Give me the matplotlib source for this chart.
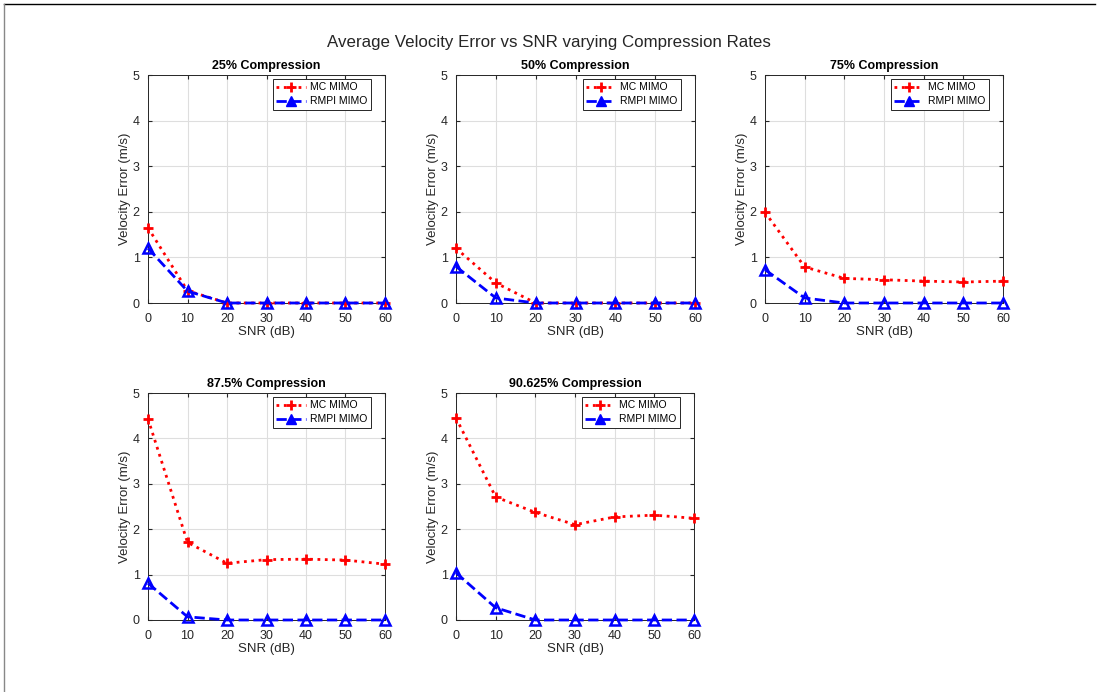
import matplotlib
matplotlib.use("Agg")
import matplotlib.pyplot as plt
from matplotlib.lines import Line2D

plt.rcParams["font.family"] = ["Liberation Sans", "DejaVu Sans"]

snr_db = [0, 10, 20, 30, 40, 50, 60]
titles = [
    "25% Compression",
    "50% Compression",
    "75% Compression",
    "87.5% Compression",
    "90.625% Compression",
]
mc_25 = [1.65, 0.27, 0, 0, 0, 0, 0]
mc_50 = [1.20, 0.44, 0, 0, 0, 0, 0]
mc_75 = [1.99, 0.79, 0.54, 0.51, 0.48, 0.46, 0.48]
mc_875 = [4.43, 1.71, 1.25, 1.33, 1.34, 1.32, 1.23]
mc_90625 = [4.45, 2.71, 2.37, 2.10, 2.27, 2.31, 2.24]
rmpi_25 = [1.20, 0.26, 0, 0, 0, 0, 0]
rmpi_50 = [0.80, 0.11, 0, 0, 0, 0, 0]
rmpi_75 = [0.73, 0.11, 0, 0, 0, 0, 0]
rmpi_875 = [0.81, 0.07, 0, 0, 0, 0, 0]
rmpi_90625 = [1.04, 0.27, 0, 0, 0, 0, 0]

mc_all = [mc_25, mc_50, mc_75, mc_875, mc_90625]
rmpi_all = [rmpi_25, rmpi_50, rmpi_75, rmpi_875, rmpi_90625]

W, H = 1097, 692
fig = plt.figure(figsize=(W / 100, H / 100), dpi=100)

# axes boxes in pixels: left, top, right, bottom
boxes = [
    (148, 75, 385, 303),
    (456, 75, 695, 303),
    (765, 75, 1003, 303),
    (148, 393, 385, 620),
    (456, 393, 694, 620),
]

dark = "#262626"
for box, title, mc, rmpi in zip(boxes, titles, mc_all, rmpi_all):
    l, t, r, b = box
    ax = fig.add_axes([l / W, 1 - b / H, (r - l) / W, (b - t) / H])
    ax.plot(snr_db, mc, color="red", linestyle=":", linewidth=2,
            marker="+", markersize=7, markeredgewidth=2, clip_on=False,
            zorder=3)
    ax.plot(snr_db, rmpi, color="blue", linestyle="--", linewidth=2,
            marker="^", markersize=7.5, markeredgewidth=1.8,
            markerfacecolor="none", clip_on=False, zorder=3)
    ax.set_xlim(0, 60)
    ax.set_ylim(0, 5)
    ax.set_xticks(snr_db)
    ax.set_yticks([0, 1, 2, 3, 4, 5])
    ax.grid(True, color="#dedede", linewidth=0.8)
    ax.set_axisbelow(True)
    ax.tick_params(direction="in", top=True, right=True, length=3,
                   labelsize=9, colors=dark, labelcolor=dark)
    ax.tick_params(axis="x", pad=7)
    ax.tick_params(axis="y", pad=6)
    for sp in ax.spines.values():
        sp.set_color(dark)
        sp.set_linewidth(0.7)
    ax.set_title(title, fontsize=9, fontweight="bold", pad=4)
    ax.set_xlabel("SNR (dB)", fontsize=9.5, color=dark, labelpad=1)
    ax.set_ylabel("Velocity Error (m/s)", fontsize=9.5, color=dark, labelpad=1)
    handles = [
        Line2D([], [], color="red", linestyle=":", linewidth=2, marker="+",
               markersize=7, markeredgewidth=2),
        Line2D([], [], color="blue", linestyle="--", linewidth=2, marker="^",
               markersize=7),
    ]
    leg = ax.legend(handles, ["MC MIMO", "RMPI MIMO"], loc="upper right",
                    fontsize=7.5, frameon=True, fancybox=False, framealpha=1,
                    borderaxespad=0.35, handlelength=2.8, borderpad=0.35,
                    labelspacing=0.4, handletextpad=0.4,
                    bbox_to_anchor=(0.955, 1.0))
    leg.get_frame().set_edgecolor(dark)
    leg.get_frame().set_linewidth(0.7)

fig.text(0.5, 1 - 42 / H, "Average Velocity Error vs SNR varying Compression Rates",
         ha="center", va="center", fontsize=12.2, color=dark)

# outer frame lines seen at top and left of the screenshot
fig.add_artist(Line2D([4 / W, 1095 / W], [1 - 4 / H, 1 - 4 / H],
                      transform=fig.transFigure, color="black", linewidth=1))
fig.add_artist(Line2D([4 / W, 4 / W], [1 - 4 / H, 0],
                      transform=fig.transFigure, color="#888888", linewidth=1))

fig.savefig("out.png", dpi=100)
